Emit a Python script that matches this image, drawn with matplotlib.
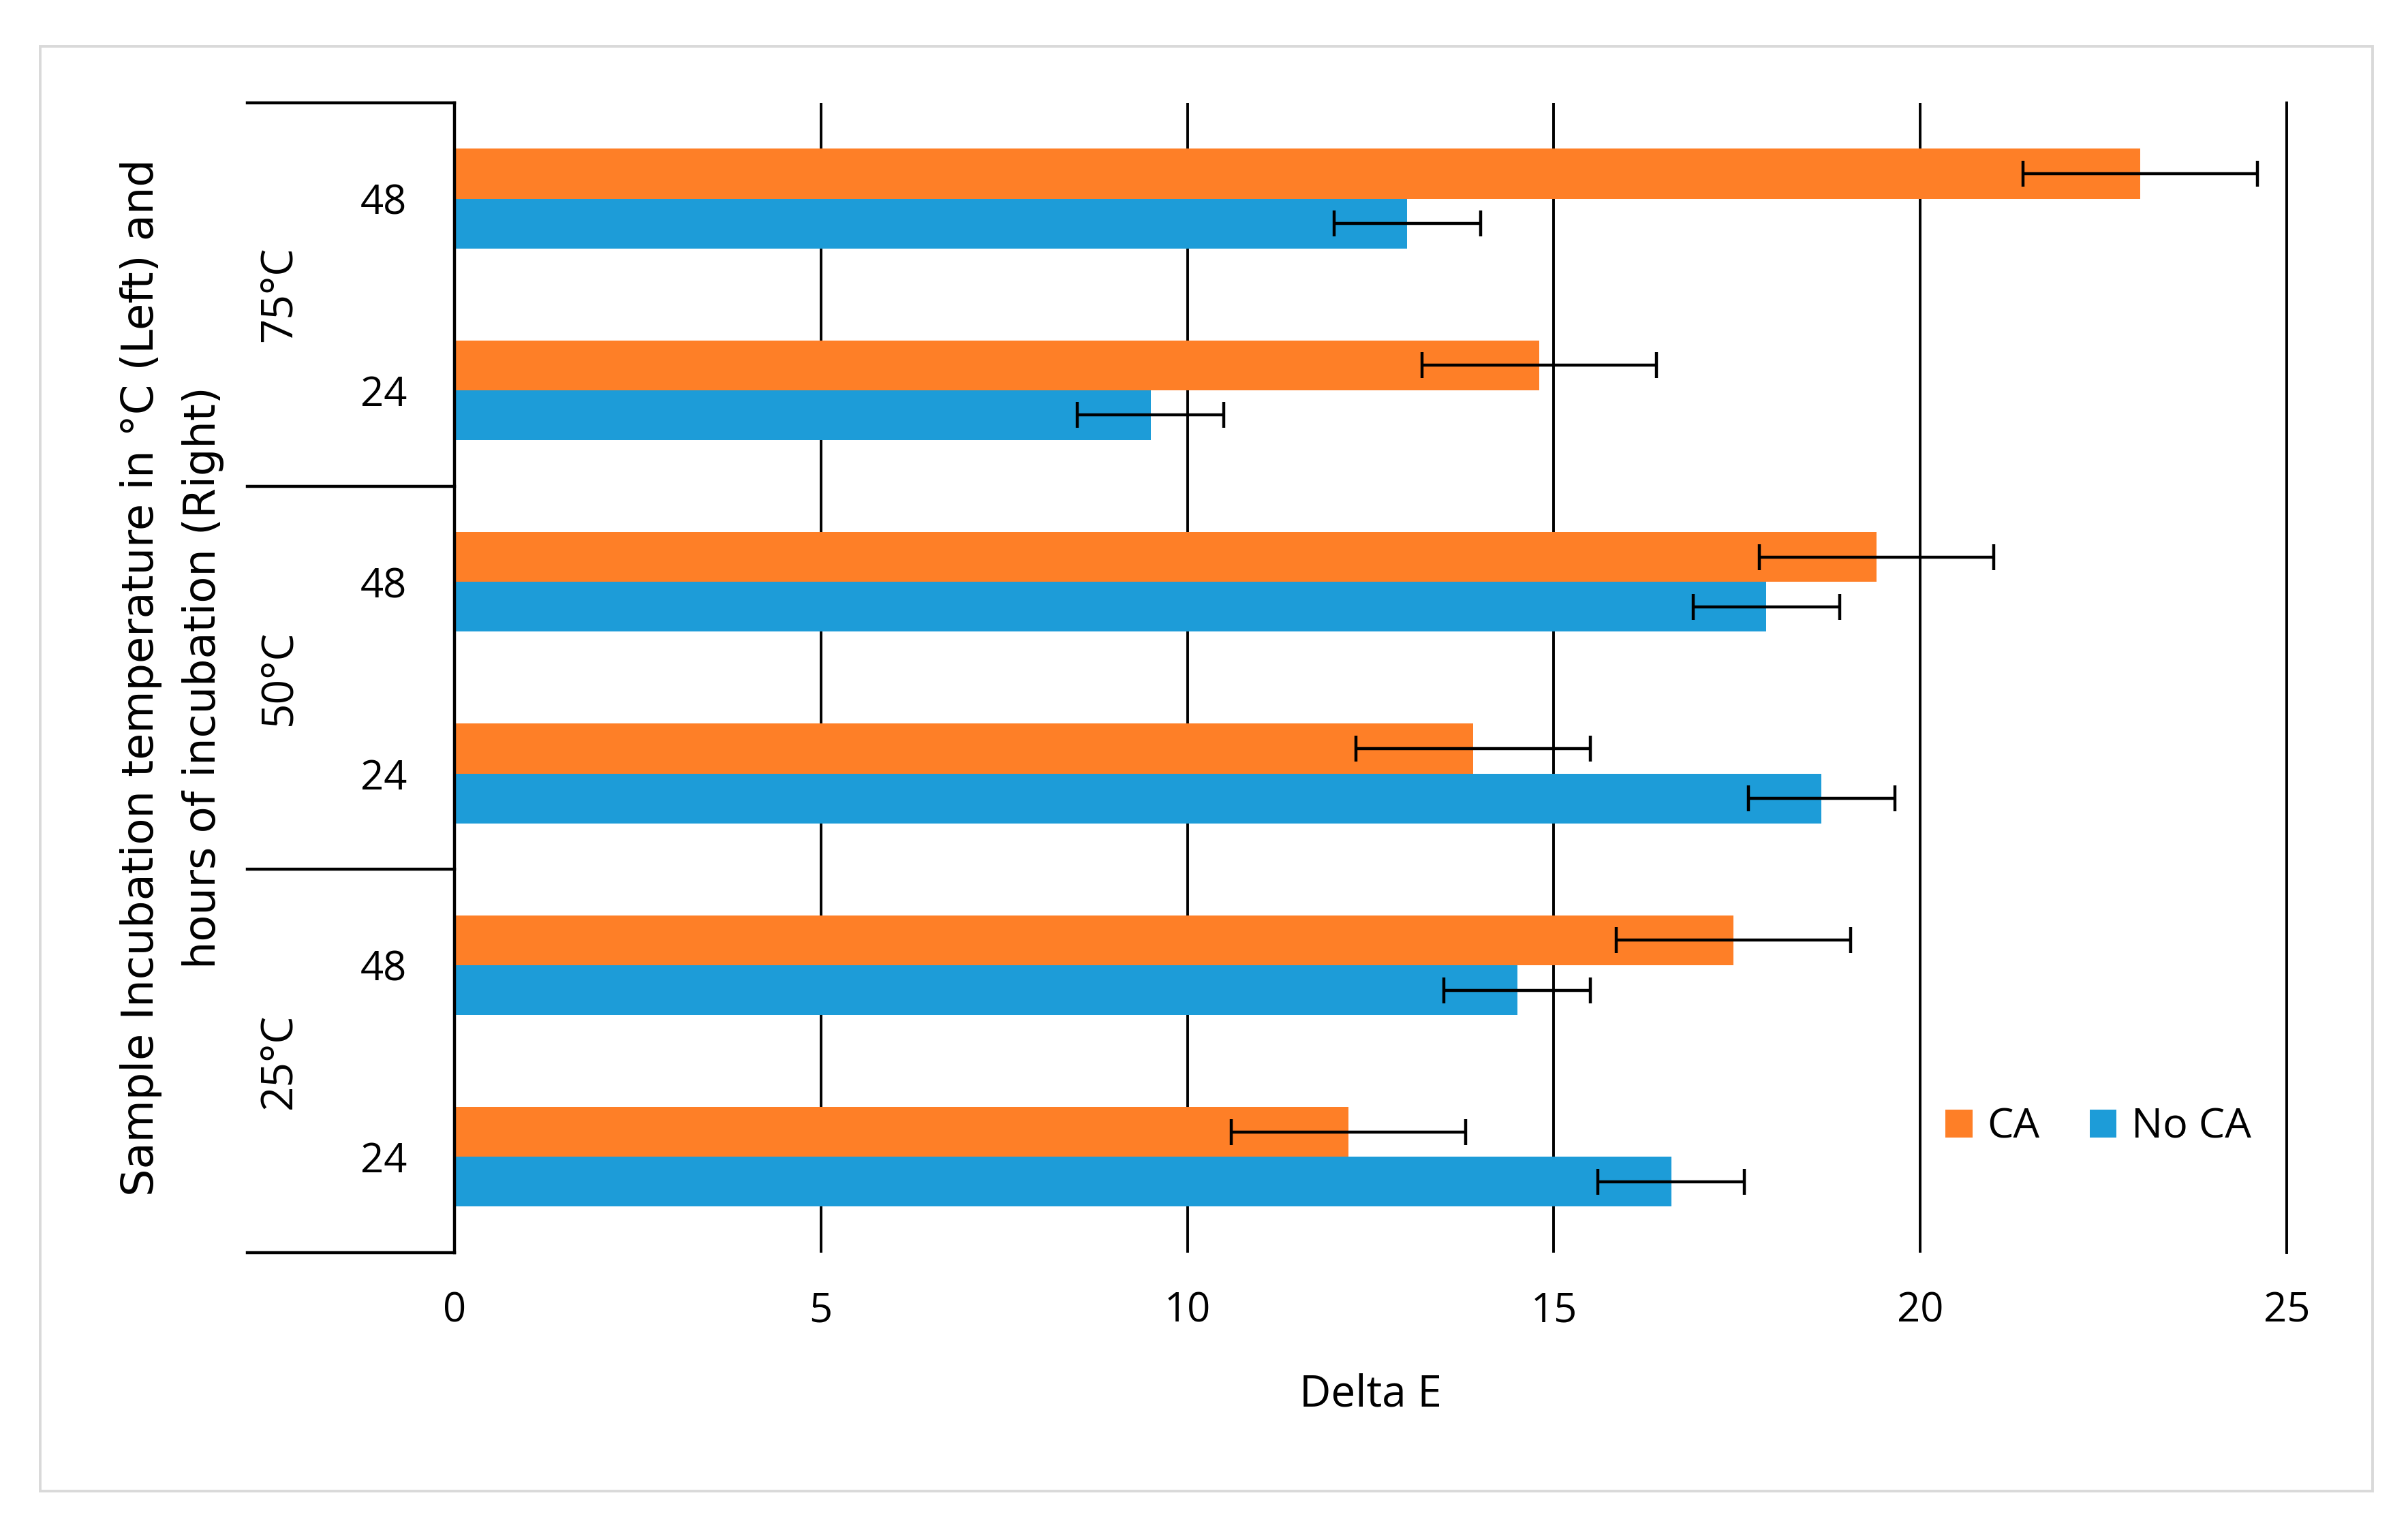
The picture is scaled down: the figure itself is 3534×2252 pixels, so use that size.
import matplotlib.pyplot as plt
import numpy as np
from matplotlib.patches import Rectangle

# categories, bottom to top
temps = ['25°C', '50°C', '75°C']
hours = ['24', '48', '24', '48', '24', '48']

ca = [12.2, 17.45, 13.9, 19.4, 14.8, 23.0]
ca_err = [1.6, 1.6, 1.6, 1.6, 1.6, 1.6]
no_ca = [16.6, 14.5, 18.65, 17.9, 9.5, 13.0]
no_ca_err = [1.0, 1.0, 1.0, 1.0, 1.0, 1.0]

orange = '#FE7F27'
blue = '#1D9CD8'
font = ['Open Sans', 'DejaVu Sans']
plt.rcParams['font.family'] = font

fig = plt.figure(figsize=(17.67, 11.26), dpi=200)
ax = fig.add_axes([0.1887, 0.1834, 0.9497 - 0.1887, 0.9330 - 0.1834])

# light grey frame round the whole chart
fig.patches.append(Rectangle((0.0167, 0.028), 0.9853 - 0.0167, 0.970 - 0.028,
                             transform=fig.transFigure, fill=False,
                             edgecolor='#D9D9D9', linewidth=1.4))

y = np.arange(len(hours))
h = 0.26
ax.barh(y + h / 2, ca, height=h, color=orange, label='CA', zorder=3)
ax.barh(y - h / 2, no_ca, height=h, color=blue, label='No CA', zorder=3)
ax.errorbar(ca, y + h / 2, xerr=ca_err, fmt='none', ecolor='black',
            elinewidth=1.6, capsize=7, capthick=1.6, zorder=4)
ax.errorbar(no_ca, y - h / 2, xerr=no_ca_err, fmt='none', ecolor='black',
            elinewidth=1.6, capsize=7, capthick=1.6, zorder=4)

ax.set_xlim(0, 25)
ax.set_ylim(-0.5, 5.5)
ax.set_xticks([0, 5, 10, 15, 20, 25])
ax.xaxis.grid(True, color='black', linewidth=1.4, zorder=1)
ax.set_axisbelow(True)
for s in ['top', 'bottom']:
    ax.spines[s].set_visible(False)
ax.spines['left'].set_linewidth(1.6)
ax.spines['right'].set_linewidth(1.4)
ax.spines['left'].set_zorder(5)

ax.set_yticks(y)
ax.set_yticklabels(hours)
ax.tick_params(axis='y', length=0, pad=25, labelsize=21.5)
ax.tick_params(axis='x', length=0, pad=20, labelsize=21.5)

# multi-level category separators
tr = ax.get_yaxis_transform()
for b in [-0.5, 1.5, 3.5, 5.5]:
    ax.plot([-0.113, 0], [b, b], color='black', linewidth=1.6,
            transform=tr, clip_on=False)
for i, t in enumerate(temps):
    ax.text(-0.0956, 2 * i + 0.5, t, rotation=90, transform=tr,
            ha='center', va='center', fontsize=23)

ax.text(-0.154, 0.5, 'Sample Incubation temperature in °C (Left) and\nhours of incubation (Right)',
        rotation=90, transform=ax.transAxes, ha='center', va='center',
        multialignment='center', fontsize=23, linespacing=1.6,
        family='DejaVu Sans')

ax.set_xlabel('Delta E', fontsize=23, labelpad=22)

ax.legend(loc='center', bbox_to_anchor=(0.897, 0.109), ncol=2, frameon=False,
          fontsize=22, handlelength=0.65, handleheight=0.65,
          handletextpad=0.35, columnspacing=1.2)

fig.savefig('out.png', dpi=200)
